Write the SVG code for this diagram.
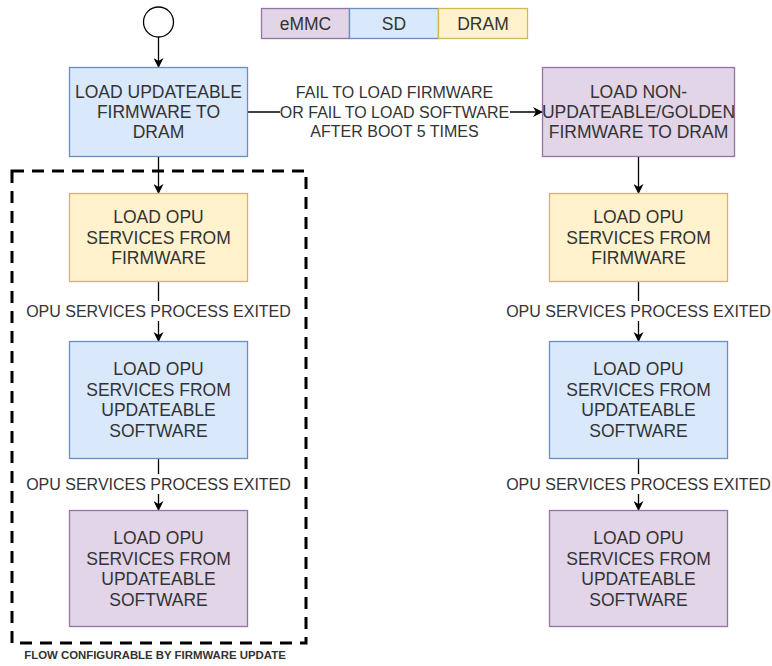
<svg xmlns="http://www.w3.org/2000/svg" width="772" height="666" viewBox="0 0 772 666">
  <style>
    .box { stroke-width: 1.3; }
    .emmc { fill: #e1d5e7; stroke: #9673a6; }
    .sd { fill: #dae8fc; stroke: #6c8ebf; }
    .dram { fill: #fff2cc; stroke: #d6b656; }
    .t { font-family: "Liberation Sans", Arial, sans-serif; font-size: 17.5px; fill: #333333; text-anchor: middle; dominant-baseline: central; }
    .lbl { font-family: "Liberation Sans", Arial, sans-serif; font-size: 16px; fill: #333333; text-anchor: middle; dominant-baseline: central; }
    .foot { font-family: "Liberation Sans", Arial, sans-serif; font-size: 11.4px; font-weight: bold; fill: #333333; text-anchor: middle; dominant-baseline: central; }
    .edge { stroke: #000000; stroke-width: 1.3; fill: none; marker-end: url(#arrow); }
    .bg { fill: #ffffff; }
  </style>
  <defs>
    <marker id="arrow" viewBox="0 0 10 10" refX="9" refY="5" markerWidth="10" markerHeight="10" markerUnits="userSpaceOnUse" orient="auto">
      <path d="M0,0 L10,5 L0,10 L3,5 Z" fill="#000000"/>
    </marker>
  </defs>

  <rect width="772" height="666" fill="#ffffff"/>

  <!-- legend -->
  <g id="legend">
    <rect class="box emmc" x="261.5" y="8.5" width="88" height="30"/>
    <text class="t" x="305.5" y="23.5">eMMC</text>
    <rect class="box sd" x="349.5" y="8.5" width="89" height="30"/>
    <text class="t" x="394" y="23.5">SD</text>
    <rect class="box dram" x="438.5" y="8.5" width="89" height="30"/>
    <text class="t" x="483" y="23.5">DRAM</text>
  </g>

  <!-- firmware update scope -->
  <g id="scope">
    <rect x="12" y="171" width="294" height="472" fill="none" stroke="#000000" stroke-width="3" stroke-dasharray="12 8"/>
    <text class="foot" x="155" y="655">FLOW CONFIGURABLE BY FIRMWARE UPDATE</text>
  </g>

  <!-- connectors -->
  <g id="connectors">
    <line class="edge" x1="158.5" y1="37" x2="158.5" y2="67"/>
    <line class="edge" x1="158.5" y1="156" x2="158.5" y2="193"/>
    <line class="edge" x1="158.5" y1="282" x2="158.5" y2="341"/>
    <line class="edge" x1="158.5" y1="458" x2="158.5" y2="510"/>
    <line class="edge" x1="248" y1="112" x2="542" y2="112"/>
    <line class="edge" x1="638.5" y1="157" x2="638.5" y2="193"/>
    <line class="edge" x1="638.5" y1="281" x2="638.5" y2="341"/>
    <line class="edge" x1="638.5" y1="458" x2="638.5" y2="510"/>

    <rect class="bg" x="280" y="81" width="230" height="61"/>
    <text class="lbl" x="394.5" y="92">FAIL TO LOAD FIRMWARE</text>
    <text class="lbl" x="394.5" y="112">OR FAIL TO LOAD SOFTWARE</text>
    <text class="lbl" x="394.5" y="131">AFTER BOOT 5 TIMES</text>

    <rect class="bg" x="24" y="301" width="269" height="20"/>
    <text class="lbl" x="158.5" y="311">OPU SERVICES PROCESS EXITED</text>
    <rect class="bg" x="24" y="474" width="269" height="20"/>
    <text class="lbl" x="158.5" y="484">OPU SERVICES PROCESS EXITED</text>
    <rect class="bg" x="504" y="301" width="269" height="20"/>
    <text class="lbl" x="638.5" y="311">OPU SERVICES PROCESS EXITED</text>
    <rect class="bg" x="504" y="474" width="269" height="20"/>
    <text class="lbl" x="638.5" y="484">OPU SERVICES PROCESS EXITED</text>
  </g>

  <!-- start -->
  <g id="start">
    <circle cx="158.5" cy="22" r="15" fill="#ffffff" stroke="#000000" stroke-width="1.3"/>
  </g>

  <!-- left column -->
  <g id="load-updateable-firmware">
    <rect class="box sd" x="69.5" y="67.5" width="178" height="89"/>
    <text class="t" x="158.5" y="92">LOAD UPDATEABLE</text>
    <text class="t" x="158.5" y="112">FIRMWARE TO</text>
    <text class="t" x="158.5" y="132">DRAM</text>
  </g>
  <g id="left-services-firmware">
    <rect class="box dram" x="69.5" y="193.5" width="178" height="88"/>
    <text class="t" x="158.5" y="217">LOAD OPU</text>
    <text class="t" x="158.5" y="237.5">SERVICES FROM</text>
    <text class="t" x="158.5" y="258">FIRMWARE</text>
  </g>
  <g id="left-services-sd">
    <rect class="box sd" x="69.5" y="341.5" width="178" height="117"/>
    <text class="t" x="158.5" y="369">LOAD OPU</text>
    <text class="t" x="158.5" y="389.5">SERVICES FROM</text>
    <text class="t" x="158.5" y="410">UPDATEABLE</text>
    <text class="t" x="158.5" y="430.5">SOFTWARE</text>
  </g>
  <g id="left-services-emmc">
    <rect class="box emmc" x="69.5" y="510.5" width="178" height="116"/>
    <text class="t" x="158.5" y="538">LOAD OPU</text>
    <text class="t" x="158.5" y="558.5">SERVICES FROM</text>
    <text class="t" x="158.5" y="579">UPDATEABLE</text>
    <text class="t" x="158.5" y="599.5">SOFTWARE</text>
  </g>

  <!-- right column -->
  <g id="load-golden-firmware">
    <rect class="box emmc" x="542.5" y="67.5" width="192" height="89"/>
    <text class="t" x="638.5" y="92">LOAD NON-</text>
    <text class="t" x="638.5" y="112">UPDATEABLE/GOLDEN</text>
    <text class="t" x="638.5" y="132">FIRMWARE TO DRAM</text>
  </g>
  <g id="right-services-firmware">
    <rect class="box dram" x="549.5" y="193.5" width="178" height="88"/>
    <text class="t" x="638.5" y="217">LOAD OPU</text>
    <text class="t" x="638.5" y="237.5">SERVICES FROM</text>
    <text class="t" x="638.5" y="258">FIRMWARE</text>
  </g>
  <g id="right-services-sd">
    <rect class="box sd" x="549.5" y="341.5" width="178" height="117"/>
    <text class="t" x="638.5" y="369">LOAD OPU</text>
    <text class="t" x="638.5" y="389.5">SERVICES FROM</text>
    <text class="t" x="638.5" y="410">UPDATEABLE</text>
    <text class="t" x="638.5" y="430.5">SOFTWARE</text>
  </g>
  <g id="right-services-emmc">
    <rect class="box emmc" x="549.5" y="510.5" width="178" height="116"/>
    <text class="t" x="638.5" y="538">LOAD OPU</text>
    <text class="t" x="638.5" y="558.5">SERVICES FROM</text>
    <text class="t" x="638.5" y="579">UPDATEABLE</text>
    <text class="t" x="638.5" y="599.5">SOFTWARE</text>
  </g>
</svg>
